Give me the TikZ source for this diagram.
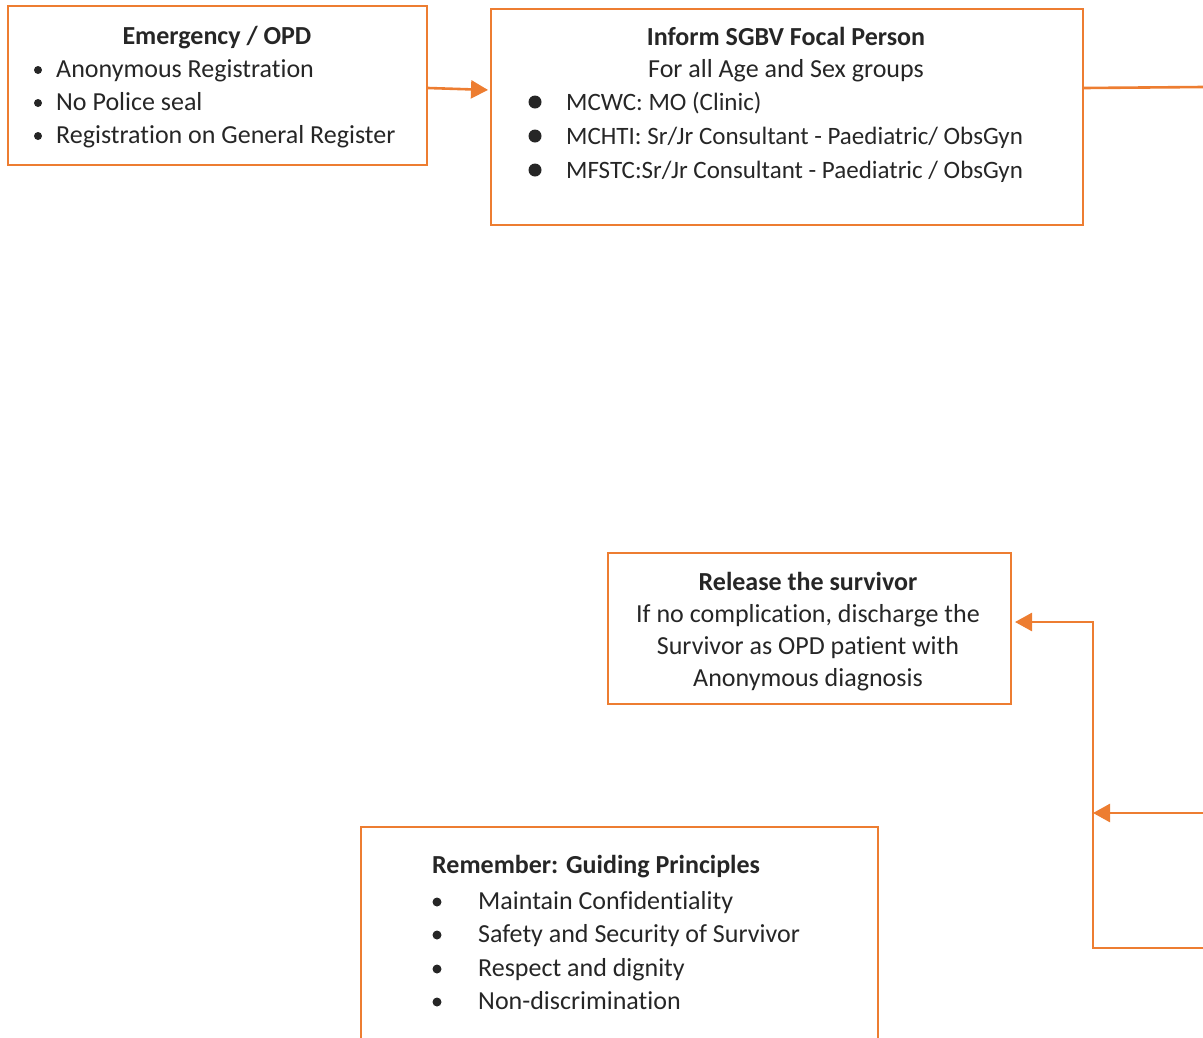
\documentclass[tikz,border=0pt]{standalone}
\usepackage{fontspec}
\setmainfont{Carlito}[RawFeature=-liga]
\usetikzlibrary{arrows.meta}
\definecolor{org}{HTML}{ED7D31}
\definecolor{txt}{HTML}{262626}
\begin{document}
\begin{tikzpicture}[x=1pt,y=-1pt,
 box/.style={draw=org, line width=2pt, inner sep=0pt, anchor=north west},
 lbl/.style={text=txt, font=\fontsize{26}{31}\selectfont, inner sep=0pt, anchor=base west},
 lbls/.style={lbl, font=\fontsize{25}{30}\selectfont},
 ctr/.style={lbl, anchor=base},
 ttl/.style={ctr, font=\fontsize{26}{31}\selectfont\bfseries},
 ttlw/.style={lbl, font=\fontsize{26}{31}\selectfont\bfseries},
 bul/.style={circle, fill=txt, draw=none, inner sep=0pt, minimum size=#1},
 conn/.style={draw=org, line width=2.6pt},
 arr/.style={conn, -{Triangle[length=17pt,width=18pt]}}]
\path[use as bounding box] (0,0) rectangle (1203,1037);
\clip (0,0) rectangle (1203,1037);
% boxes
\node[box, minimum width=419pt, minimum height=159pt] (b1) at (7,5) {};
\node[box, minimum width=592pt, minimum height=216pt] (b2) at (490,8) {};
\node[box, minimum width=403pt, minimum height=151pt] (b3) at (607,552) {};
\node[box, minimum width=517pt, minimum height=300pt] (b4) at (360,826) {};
% box 1 text
\node[ttl] (t1) at (217,44) {Emergency / OPD};
\node[bul=8pt] (d11) at (38,70) {};
\node[bul=8pt] (d12) at (38,103) {};
\node[bul=8pt] (d13) at (38,136) {};
\node[lbl] (l11) at (56,77) {Anonymous Registration};
\node[lbl] (l12) at (56,110) {No Police seal};
\node[lbl] (l13) at (56,143) {Registration on General Register};
% box 2 text
\node[ttl] (t2) at (786,45) {Inform SGBV Focal Person};
\node[ctr] (s2) at (786,77) {For all Age and Sex groups};
\node[bul=13pt] (d21) at (535,102) {};
\node[bul=13pt] (d22) at (535,136) {};
\node[bul=13pt] (d23) at (535,170) {};
\node[lbls] (l21) at (566,110) {MCWC: MO (Clinic)};
\node[lbls] (l22) at (566,144) {MCHTI: Sr/Jr Consultant - Paediatric/ ObsGyn};
\node[lbls] (l23) at (566,178) {MFSTC:Sr/Jr Consultant - Paediatric / ObsGyn};
% box 3 text
\node[ttl] (t3) at (808,590) {Release the survivor};
\node[ctr] (l31) at (808,622) {If no complication, discharge the};
\node[ctr] (l32) at (808,654) {Survivor as OPD patient with};
\node[ctr] (l33) at (808,686) {Anonymous diagnosis};
% box 4 text
\node[ttlw] (t4) at (432,873) {Remember: Guiding Principles};
\node[bul=9pt] (d41) at (437,902) {};
\node[bul=9pt] (d42) at (437,935) {};
\node[bul=9pt] (d43) at (437,969) {};
\node[bul=9pt] (d44) at (437,1002) {};
\node[lbl] (l41) at (478,909) {Maintain Confidentiality};
\node[lbl] (l42) at (478,942) {Safety and Security of Survivor};
\node[lbl] (l43) at (478,976) {Respect and dignity};
\node[lbl] (l44) at (478,1009) {Non-discrimination};
% connectors
\coordinate (e1) at (1203,87);
\coordinate (e2) at (1203,948);
\coordinate (e3) at (1203,813);
\coordinate (j1) at (1093,622);
\coordinate (j2) at (1093,948);
\coordinate (j3) at (1093,813);
\draw[arr, shorten >=2pt] ([yshift=-2.5pt]b1.east) -- ([yshift=27pt]b2.west);
\draw[conn] ([yshift=29pt]b2.east) -- (e1);
\draw[arr, shorten >=3pt] (e2) -- (j2) -- (j1) -- (b3.east |- j1);
\draw[arr] (e3) -- (j3);
\end{tikzpicture}
\end{document}
